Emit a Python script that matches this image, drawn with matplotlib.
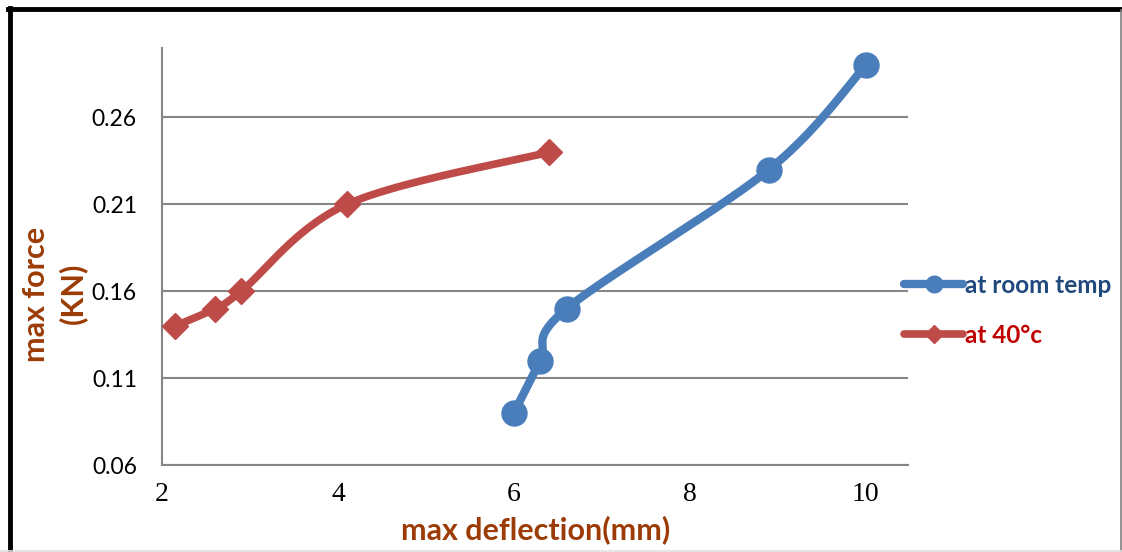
import numpy as np
import matplotlib
matplotlib.use('Agg')
import matplotlib.pyplot as plt
from matplotlib.lines import Line2D

###############################################
### Datos

room_x = [6.0, 6.3, 6.6, 8.9, 10.0]
room_y = [0.09, 0.12, 0.15, 0.23, 0.29]

hot_x = [2.15, 2.6, 2.9, 4.1, 6.4]
hot_y = [0.14, 0.15, 0.16, 0.21, 0.24]

xticks = [2, 4, 6, 8, 10]
yticks = [0.06, 0.11, 0.16, 0.21, 0.26]

xlim = (2, 10.48)
ylim = (0.06, 0.30)

blue = '#4A7EBB'
red = '#BE4B48'
brown = '#9C3B06'
grid_c = '#868686'


###############################################
### Curva suave tipo Excel (Catmull-Rom -> Bezier)

def smooth(xs, ys, n=40):
    # trabajar en pixeles aproximados para que se parezca a la pantalla
    kx = 746.0 / (xlim[1] - xlim[0])
    ky = 417.0 / (ylim[1] - ylim[0])
    p = np.column_stack([np.asarray(xs) * kx, np.asarray(ys) * ky])
    pts = np.vstack([p[0], p, p[-1]])
    out = []
    t = np.linspace(0, 1, n)[:, None]
    for i in range(1, len(pts) - 2):
        p0, p1, p2, p3 = pts[i - 1], pts[i], pts[i + 1], pts[i + 2]
        c1 = p1 + (p2 - p0) / 6.0
        c2 = p2 - (p3 - p1) / 6.0
        seg = ((1 - t) ** 3) * p1 + 3 * ((1 - t) ** 2) * t * c1 + 3 * (1 - t) * t ** 2 * c2 + t ** 3 * p2
        out.append(seg)
    out = np.vstack(out)
    return out[:, 0] / kx, out[:, 1] / ky


###############################################
### Dibujo

fig = plt.figure(figsize=(11.22, 5.52), dpi=100)
ax = fig.add_axes([162 / 1122, 1 - 465 / 552, 746 / 1122, 417 / 552])

ax.set_xlim(xlim)
ax.set_ylim(ylim)
ax.set_yticks(yticks)
ax.set_yticklabels(['%.2f' % v for v in yticks], fontfamily='Lato', fontsize=16.5)
ax.set_xticks(xticks)
ax.set_xticklabels([str(v) for v in xticks], fontfamily='Liberation Serif', fontsize=20)
ax.tick_params(length=0)
ax.tick_params(axis='y', pad=18)
ax.tick_params(axis='x', pad=12)

for s in ['top', 'right']:
    ax.spines[s].set_visible(False)
for s in ['left', 'bottom']:
    ax.spines[s].set_color(grid_c)
    ax.spines[s].set_linewidth(1.5)
ax.yaxis.grid(True, color=grid_c, linewidth=1.5)
ax.set_axisbelow(True)

bx, by = smooth(room_x, room_y)
ax.plot(bx, by, color=blue, linewidth=6, solid_capstyle='round', zorder=3)
ax.plot(room_x, room_y, linestyle='none', marker='o', markersize=18,
        color=blue, zorder=4)

rx, ry = smooth(hot_x, hot_y)
ax.plot(rx, ry, color=red, linewidth=5.5, solid_capstyle='round', zorder=3)
ax.plot(hot_x, hot_y, linestyle='none', marker='D', markersize=13,
        color=red, zorder=4)

###############################################
### Notas

fig.text(536 / 1122, 1 - 530 / 552, 'max deflection(mm)', ha='center', va='center',
         fontfamily='Lato', fontweight='bold', fontsize=22, color=brown)
fig.text(36 / 1122, 1 - 294 / 552, 'max force', ha='center', va='center', rotation=90,
         fontfamily='Lato', fontweight='bold', fontsize=22, color=brown)
fig.text(73 / 1122, 1 - 293 / 552, '(KN)', ha='center', va='center', rotation=90,
         fontfamily='Lato', fontweight='bold', fontsize=22, color=brown)

h1 = Line2D([], [], color=blue, linewidth=6, marker='o', markersize=12,
            solid_capstyle='round')
h2 = Line2D([], [], color=red, linewidth=5.5, marker='D', markersize=9,
            solid_capstyle='round')
leg = fig.legend([h1, h2], ['at room temp', 'at 40°c'], loc='upper left',
                 bbox_to_anchor=(882 / 1122, 1 - 252 / 552), frameon=False,
                 handlelength=2.45, handletextpad=0.05, labelspacing=1.1,
                 borderpad=0.4,
                 prop={'family': 'Lato', 'weight': 'bold', 'size': 17.5})
leg.get_texts()[0].set_color('#1F497D')
leg.get_texts()[1].set_color('#C00000')

# marco
fig.add_artist(Line2D([10 / 1122, 10 / 1122], [0, 1 - 8 / 552], transform=fig.transFigure,
                      color='black', linewidth=3.5))
fig.add_artist(Line2D([8 / 1122, 1], [1 - 8.5 / 552, 1 - 8.5 / 552], transform=fig.transFigure,
                      color='black', linewidth=3.5))
fig.add_artist(Line2D([1120.5 / 1122, 1120.5 / 1122], [0, 1 - 10 / 552], transform=fig.transFigure,
                      color='#7F7F7F', linewidth=1.2))
fig.add_artist(Line2D([0, 1], [1 / 552, 1 / 552], transform=fig.transFigure,
                      color='#E0E0E0', linewidth=1.2))

###############################################
### Imprimir

fig.savefig('out.png', dpi=100)
